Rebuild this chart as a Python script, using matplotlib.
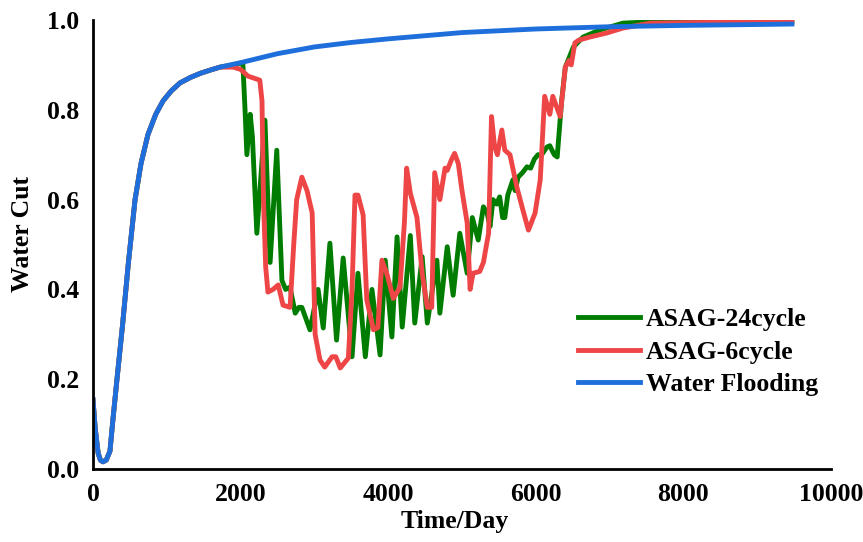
import matplotlib.pyplot as plt

# shared start of all three runs (the ASAG runs follow water flooding until ~1900 days)
early_day = [0, 30, 70, 100, 135, 180, 230, 270, 325, 400, 480, 570, 650, 745, 850, 950,
             1060, 1180, 1320, 1450, 1600, 1720]
early_cut = [0.154, 0.09, 0.035, 0.02, 0.016, 0.02, 0.04, 0.11, 0.20, 0.32, 0.46, 0.60, 0.68,
             0.745, 0.79, 0.82, 0.842, 0.86, 0.872, 0.881, 0.889, 0.895]

wf_day = [2000, 2500, 3000, 3500, 4000, 5000, 6000, 7000, 8000, 9000, 9470]
wf_cut = [0.905, 0.925, 0.94, 0.95, 0.958, 0.972, 0.98, 0.985, 0.988, 0.99, 0.991]

asag24_day = [1900, 2030, 2060, 2085, 2130, 2160, 2220, 2330, 2400, 2490, 2560, 2610, 2670,
              2740, 2790, 2830, 2940, 3050, 3120, 3210, 3300, 3390, 3510, 3590, 3690, 3780,
              3890, 3960, 4050, 4120, 4190, 4300, 4360, 4460, 4530, 4660, 4700, 4800, 4880,
              4970, 5070, 5140, 5220, 5290, 5340, 5380, 5420, 5470, 5510, 5550, 5580, 5620,
              5690, 5720, 5760, 5820, 5880, 5930, 5980, 6030, 6080, 6150, 6190, 6250, 6290,
              6350, 6400, 6510, 6640, 6870, 7180, 7550, 8500, 9470]
asag24_cut = [0.90, 0.905, 0.80, 0.70, 0.79, 0.74, 0.525, 0.777, 0.46, 0.71, 0.42, 0.40, 0.405,
              0.347, 0.36, 0.36, 0.31, 0.40, 0.314, 0.503, 0.287, 0.47, 0.25, 0.436, 0.25, 0.40,
              0.254, 0.465, 0.294, 0.517, 0.316, 0.52, 0.325, 0.473, 0.325, 0.465, 0.347, 0.495,
              0.387, 0.525, 0.436, 0.56, 0.51, 0.584, 0.57, 0.54, 0.60, 0.59, 0.606, 0.56, 0.56,
              0.61, 0.644, 0.62, 0.65, 0.66, 0.673, 0.67, 0.69, 0.70, 0.70, 0.717, 0.72, 0.70,
              0.695, 0.82, 0.895, 0.94, 0.962, 0.978, 0.993, 0.996, 0.997, 0.997]

asag6_day = [1900, 2000, 2100, 2260, 2290, 2310, 2340, 2370, 2440, 2510, 2575, 2670, 2720,
             2760, 2830, 2900, 2970, 3010, 3075, 3140, 3240, 3290, 3350, 3460, 3510, 3550,
             3590, 3660, 3710, 3800, 3860, 3915, 3980, 4070, 4160, 4220, 4250, 4300, 4390,
             4460, 4530, 4590, 4630, 4700, 4770, 4800, 4860, 4900, 4950, 5000, 5070, 5110,
             5150, 5240, 5290, 5360, 5400, 5440, 5480, 5540, 5580, 5650, 5740, 5820, 5900,
             5990, 6060, 6120, 6190, 6230, 6330, 6400, 6450, 6480, 6530, 6580, 6730, 6960,
             7180, 7550, 8500, 9470]
asag6_cut = [0.895, 0.89, 0.875, 0.866, 0.82, 0.60, 0.45, 0.394, 0.40, 0.41, 0.365, 0.36, 0.50,
             0.60, 0.65, 0.62, 0.57, 0.30, 0.243, 0.227, 0.25, 0.25, 0.225, 0.247, 0.40, 0.61,
             0.61, 0.566, 0.376, 0.31, 0.315, 0.465, 0.436, 0.38, 0.405, 0.55, 0.67, 0.614, 0.56,
             0.436, 0.36, 0.36, 0.66, 0.60, 0.67, 0.665, 0.69, 0.703, 0.68, 0.62, 0.548, 0.40,
             0.436, 0.44, 0.46, 0.525, 0.785, 0.72, 0.70, 0.755, 0.71, 0.70, 0.63, 0.58, 0.532,
             0.57, 0.644, 0.83, 0.79, 0.83, 0.785, 0.895, 0.91, 0.90, 0.949, 0.955, 0.962, 0.971,
             0.982, 0.993, 0.995, 0.995]

labels = ['ASAG-24cycle', 'ASAG-6cycle', 'Water Flooding']
colors = ['#007D00', '#EE4646', '#1E6FDC']

plt.rcParams['font.family'] = ['Liberation Serif', 'DejaVu Serif']
plt.rcParams['font.weight'] = 'bold'

fig = plt.figure(figsize=(8.63, 5.42), dpi=100)
ax = fig.add_axes([93 / 863, 1 - 469 / 542, 738 / 863, 449 / 542])

ax.plot(early_day + asag24_day, early_cut + asag24_cut, color=colors[0], lw=3.5,
        solid_joinstyle='round', label=labels[0])
ax.plot(early_day + asag6_day, early_cut + asag6_cut, color=colors[1], lw=3.5,
        solid_joinstyle='round', label=labels[1])
ax.plot(early_day + wf_day, early_cut + wf_cut, color=colors[2], lw=3.5,
        solid_joinstyle='round', label=labels[2])

ax.set_xlim(0, 10000)
ax.set_ylim(0, 1.0)
ax.set_xticks(range(0, 10001, 2000))
ax.set_yticks([0.0, 0.2, 0.4, 0.6, 0.8, 1.0])
ax.set_yticklabels(['0.0', '0.2', '0.4', '0.6', '0.8', '1.0'])
ax.tick_params(axis='both', length=0, labelsize=18.5)
ax.tick_params(axis='x', pad=10)
ax.tick_params(axis='y', pad=10)

for side in ['top', 'right']:
    ax.spines[side].set_visible(False)
for side in ['left', 'bottom']:
    ax.spines[side].set_linewidth(2)
    ax.spines[side].set_color('black')

ax.set_xlabel('Time/Day', fontsize=18.5, fontweight='bold')
ax.set_ylabel('Water Cut', fontsize=18.5, fontweight='bold')
ax.xaxis.set_label_coords((455 - 93) / 738, -(510 - 469) / 449)
ax.yaxis.set_label_coords((34 - 93) / 738, (469 - 234) / 449)

ax.legend(loc='center left', bbox_to_anchor=((578 - 93) / 738, (469 - 352) / 449),
          frameon=False, fontsize=18.5, handlelength=2.4, handletextpad=0.25,
          labelspacing=0.37, borderpad=0, borderaxespad=0)

fig.savefig('out.png', dpi=100)
